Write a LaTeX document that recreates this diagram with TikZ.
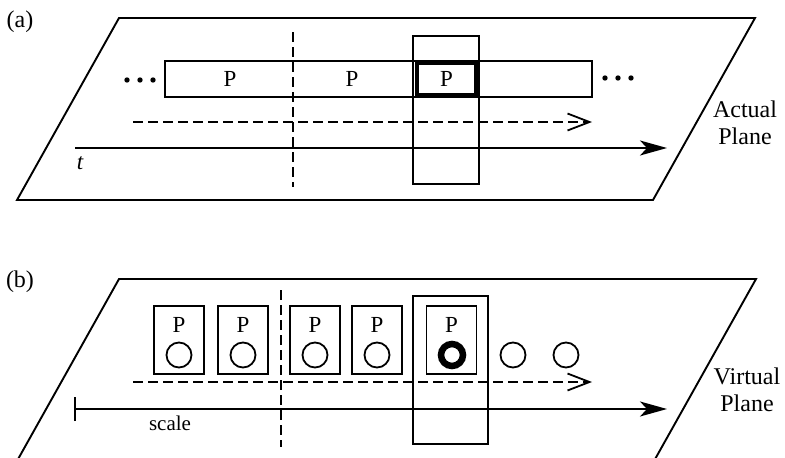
\documentclass[tikz,border=0pt]{standalone}
\usepackage{fontspec}
\setmainfont{Liberation Serif}
\usetikzlibrary{arrows.meta}

\tikzset{
  plane/.style={line width=1.9pt, line join=miter},
  edge/.style={draw, line width=1.8pt},
  dashline/.style={line width=1.8pt, dash pattern=on 10pt off 5pt},
  lbl/.style={font=\fontsize{24}{27}\selectfont, inner sep=0pt, align=center},
  ptext/.style={font=\fontsize{23}{24}\selectfont, inner sep=0pt},
  frame/.style={edge, minimum width=50pt, minimum height=68pt, inner sep=0pt},
  ball/.style={circle, edge, minimum size=25pt, inner sep=0pt},
  timeline/.style={line width=1.8pt, -{Stealth[length=27pt, width=15pt, inset=7pt]}},
  flow/.style={dashline, -{Straight Barb[length=22pt, width=17pt, line width=1.8pt]}},
}

\begin{document}
\begin{tikzpicture}[x=1pt, y=-1pt]
  \useasboundingbox (0,0) rectangle (785,458);
  \clip (0,0) rectangle (785,458);

  % (a) actual plane
  \node[lbl] (taga) at (20,22) {(a)};
  \draw[plane] (119,18) -- (755,18) -- (653,200) -- (17,200) -- cycle;
  \node[lbl] (actual) at (745,123) {Actual\\Plane};
  \node[edge, minimum width=427pt, minimum height=36pt] (strip) at (378.5,79) {};
  \node[ptext] (pa1) at (230,79) {P};
  \node[ptext] (pa2) at (352,79) {P};
  \node[edge, minimum width=66pt, minimum height=148pt] (wina) at (446,110) {};
  \node[ptext, draw, line width=4.5pt, minimum width=59pt, minimum height=32pt] (pa3) at (446.5,79) {P};
  \foreach \x in {127,140,153} \fill (\x,80) circle (2.7pt);
  \foreach \x in {605,618,631} \fill (\x,78) circle (2.7pt);
  \draw[dashline] (293,32) -- (293,187);
  \coordinate (fa0) at (133,122);
  \coordinate (fa1) at (592,122);
  \draw[flow] (fa0) -- (fa1);
  \coordinate (ta0) at (75,148);
  \coordinate (ta1) at (667,148);
  \draw[timeline] (ta0) -- (ta1);
  \node[lbl, font=\fontsize{23}{24}\selectfont\itshape] (t) at (80,163) {t};

  % (b) virtual plane
  \node[lbl] (tagb) at (20,282) {(b)};
  \draw[plane] (119,279) -- (756,279) -- (654,461) -- (17,461) -- cycle;
  \node[lbl] (virtual) at (747,390) {Virtual\\Plane};
  \foreach \x [count=\i] in {179,243,315,377} {
    \node[frame] (fr\i) at (\x,340) {};
    \node[ptext] (pb\i) at (\x,325) {P};
    \node[ball] (ball\i) at (\x,355) {};
  }
  \node[edge, minimum width=75pt, minimum height=148pt] (winb) at (450.5,370) {};
  \node[frame] (fr5) at (451.5,340) {};
  \node[ptext] (pb5) at (451.5,325) {P};
  \node[circle, draw, line width=6.5pt, minimum size=22pt, inner sep=0pt] (ball5) at (452,355) {};
  \node[ball] (ball6) at (513,355) {};
  \node[ball] (ball7) at (566,355) {};
  \draw[dashline] (281,290) -- (281,447);
  \coordinate (fb0) at (133,382);
  \coordinate (fb1) at (592,382);
  \draw[flow] (fb0) -- (fb1);
  \coordinate (tb0) at (74,409);
  \coordinate (tb1) at (667,409);
  \draw[timeline, {Bar[width=24pt, line width=1.8pt]}-{Stealth[length=27pt, width=15pt, inset=7pt]}] (tb0) -- (tb1);
  \node[lbl, font=\fontsize{21}{24}\selectfont] (scale) at (170,423) {scale};
\end{tikzpicture}
\end{document}
